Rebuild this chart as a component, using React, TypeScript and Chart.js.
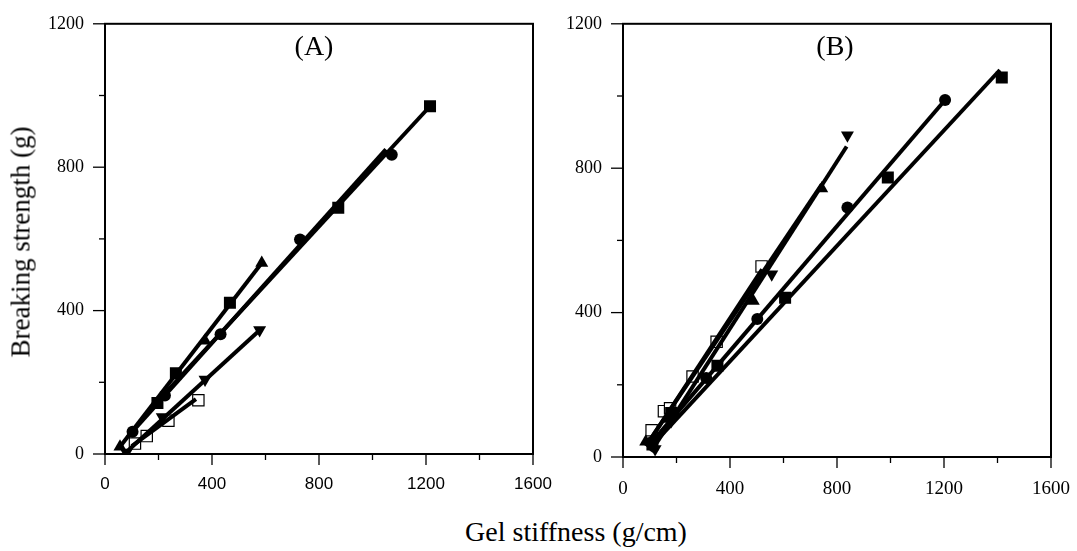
import React, { useEffect, useRef } from "react";
import { Chart, registerables } from "chart.js";
Chart.register(...registerables);

// Axis definitions
const xTickMin = 0;
const xTickMax = 1600;
const xTickStep = 200;
const xLabelEvery = 400;
const yTickMin = 0;
const yTickMax = 1200;
const yTickStep = 200;
const yLabelEvery = 400;

// ---------- Panel A (markers) ----------
const aCircleX = [103, 224, 432, 729, 1072];
const aCircleY = [62, 163, 334, 598, 835];
const aSquareX = [196, 265, 467, 872, 1215];
const aSquareY = [142, 225, 422, 687, 970];
const aTriUpX = [56, 374, 586];
const aTriUpY = [20, 316, 533];
const aTriDownX = [80, 214, 374, 578];
const aTriDownY = [4, 103, 208, 346];
const aOpenSqX = [112, 156, 237, 349];
const aOpenSqY = [29, 50, 93, 150];
// Panel A (fitted lines, end points)
const aCircleLineX = [85, 1050];
const aCircleLineY = [48, 850];
const aSquareLineX = [170, 1215];
const aSquareLineY = [125, 970];
const aTriUpLineX = [56, 586];
const aTriUpLineY = [20, 533];
const aTriDownLineX = [78, 576];
const aTriDownLineY = [4, 344];
const aOpenSqLineX = [100, 340];
const aOpenSqLineY = [22, 153];

// ---------- Panel B (markers) ----------
const bCircleX = [105, 190, 311, 502, 839, 1204];
const bCircleY = [40, 118, 219, 382, 691, 989];
const bSquareX = [110, 180, 353, 606, 990, 1416];
const bSquareY = [35, 122, 253, 441, 774, 1051];
const bTriUpX = [85, 170, 487, 743];
const bTriUpY = [42, 105, 432, 744];
const bTriDownX = [120, 180, 556, 839];
const bTriDownY = [22, 100, 506, 891];
const bOpenSqX = [107, 153, 176, 260, 350, 518];
const bOpenSqY = [74, 127, 135, 223, 319, 528];
// Panel B (fitted lines, end points)
const bCircleLineX = [95, 1204];
const bCircleLineY = [30, 989];
const bSquareLineX = [100, 1409];
const bSquareLineY = [25, 1072];
const bTriUpLineX = [85, 743];
const bTriUpLineY = [30, 755];
const bTriDownLineX = [105, 836];
const bTriDownLineY = [15, 860];
const bOpenSqLineX = [95, 520];
const bOpenSqLineY = [40, 520];

const xTitle = "Gel stiffness (g/cm)";
const yTitle = "Breaking strength (g)";
const panelLabels = ["(A)", "(B)"];

function pts(xs: number[], ys: number[]) {
  return xs.map((x, i) => ({ x, y: ys[i] }));
}

type Marker = {
  pointStyle: string;
  radius: number;
  fill: string;
  rotation?: number;
  borderWidth?: number;
  order: number;
};

const mCircle: Marker = { pointStyle: "circle", radius: 6, fill: "#000", order: 0 };
const mSquare: Marker = { pointStyle: "rect", radius: 8.5, fill: "#000", order: 0 };
const mTriUp: Marker = { pointStyle: "triangle", radius: 7.5, fill: "#000", order: 0 };
const mTriDown: Marker = { pointStyle: "triangle", radius: 7.5, fill: "#000", rotation: 180, order: 0 };
const mOpenSq: Marker = { pointStyle: "rect", radius: 8, fill: "#fff", borderWidth: 1.2, order: 2 };

function series(mx: number[], my: number[], lx: number[], ly: number[], m: Marker) {
  return [
    {
      data: pts(lx, ly),
      showLine: true,
      borderColor: "#000",
      borderWidth: 4,
      pointRadius: 0,
      borderCapStyle: "butt",
      order: 1,
    },
    {
      data: pts(mx, my),
      showLine: false,
      pointStyle: m.pointStyle,
      pointRadius: m.radius,
      pointRotation: m.rotation || 0,
      pointBackgroundColor: m.fill,
      pointBorderColor: "#000",
      pointBorderWidth: m.borderWidth || 0,
      order: m.order,
    },
  ];
}

const frameTicks = {
  id: "frameTicks",
  afterDatasetsDraw(chart: any) {
    const { ctx, chartArea } = chart;
    const { left, right, top, bottom } = chartArea;
    ctx.save();
    ctx.strokeStyle = "#000";
    ctx.lineWidth = 2;
    ctx.strokeRect(left, top, right - left, bottom - top);
    ctx.lineWidth = 1.3;
    const xs = chart.scales.x;
    xs.ticks.forEach((t: any) => {
      const px = xs.getPixelForValue(t.value);
      const len = t.value % xLabelEvery === 0 ? 11 : 6;
      ctx.beginPath();
      ctx.moveTo(px, bottom);
      ctx.lineTo(px, bottom + len);
      ctx.stroke();
    });
    const ys = chart.scales.y;
    ys.ticks.forEach((t: any) => {
      const py = ys.getPixelForValue(t.value);
      const len = t.value % yLabelEvery === 0 ? 12 : 6;
      ctx.beginPath();
      ctx.moveTo(left, py);
      ctx.lineTo(left - len, py);
      ctx.stroke();
    });
    ctx.restore();
  },
};

type PanelProps = {
  datasets: any[];
  left: number;
  width: number;
  height: number;
  padRight: number;
  yWidth: number;
  xHeight: number;
  xFont: any;
  xPad: number;
  yPad: number;
};

function Panel(p: PanelProps) {
  const ref = useRef<HTMLCanvasElement>(null);
  useEffect(() => {
    if (!ref.current) return;
    const chart = new Chart(ref.current, {
      type: "scatter",
      data: { datasets: p.datasets },
      options: {
        animation: false,
        responsive: false,
        maintainAspectRatio: false,
        layout: { padding: { left: 0, top: 21, right: p.padRight, bottom: 0 } },
        plugins: { legend: { display: false }, tooltip: { enabled: false } },
        scales: {
          x: {
            type: "linear",
            min: xTickMin,
            max: xTickMax,
            grid: { display: false },
            border: { display: false },
            ticks: {
              stepSize: xTickStep,
              autoSkip: false,
              maxRotation: 0,
              padding: p.xPad,
              color: "#000",
              font: p.xFont,
              callback: (v: any) => (Number(v) % xLabelEvery === 0 ? String(v) : ""),
            },
            afterFit: (s: any) => {
              s.height = p.xHeight;
            },
          },
          y: {
            type: "linear",
            min: yTickMin,
            max: yTickMax,
            grid: { display: false },
            border: { display: false },
            ticks: {
              stepSize: yTickStep,
              autoSkip: false,
              padding: p.yPad,
              color: "#000",
              font: { family: "Liberation Serif", size: 18 },
              callback: (v: any) => (Number(v) % yLabelEvery === 0 ? String(v) : ""),
            },
            afterFit: (s: any) => {
              s.width = p.yWidth;
            },
          },
        },
      } as any,
      plugins: [frameTicks],
    });
    return () => chart.destroy();
  }, []);
  return (
    <canvas
      ref={ref}
      width={p.width}
      height={p.height}
      style={{ position: "absolute", left: p.left, top: 0, width: p.width, height: p.height }}
    />
  );
}

const datasetsA = [
  ...series(aCircleX, aCircleY, aCircleLineX, aCircleLineY, mCircle),
  ...series(aSquareX, aSquareY, aSquareLineX, aSquareLineY, mSquare),
  ...series(aTriUpX, aTriUpY, aTriUpLineX, aTriUpLineY, mTriUp),
  ...series(aTriDownX, aTriDownY, aTriDownLineX, aTriDownLineY, mTriDown),
  ...series(aOpenSqX, aOpenSqY, aOpenSqLineX, aOpenSqLineY, mOpenSq),
];

const datasetsB = [
  ...series(bCircleX, bCircleY, bCircleLineX, bCircleLineY, mCircle),
  ...series(bSquareX, bSquareY, bSquareLineX, bSquareLineY, mSquare),
  ...series(bTriUpX, bTriUpY, bTriUpLineX, bTriUpLineY, mTriUp),
  ...series(bTriDownX, bTriDownY, bTriDownLineX, bTriDownLineY, mTriDown),
  ...series(bOpenSqX, bOpenSqY, bOpenSqLineX, bOpenSqLineY, mOpenSq),
];

export default function App() {
  const serif = "'Liberation Serif', 'Times New Roman', serif";
  return (
    <div
      style={{
        position: "fixed",
        left: 0,
        top: 0,
        width: 1077,
        height: 551,
        background: "#fff",
        overflow: "hidden",
      }}
    >
      <Panel
        datasets={datasetsA}
        left={0}
        width={575}
        height={500}
        padRight={42}
        yWidth={105}
        xHeight={46}
        xFont={{ family: "Liberation Sans", size: 17 }}
        xPad={12}
        yPad={13}
      />
      <Panel
        datasets={datasetsB}
        left={545}
        width={545}
        height={500}
        padRight={39}
        yWidth={78}
        xHeight={43}
        xFont={{ family: "Liberation Serif", size: 19 }}
        xPad={13}
        yPad={13}
      />
      <div
        style={{
          position: "absolute",
          left: 314,
          top: 46,
          transform: "translate(-50%, -50%)",
          fontFamily: serif,
          fontSize: 28,
          whiteSpace: "nowrap",
          lineHeight: 1,
        }}
      >
        {panelLabels[0]}
      </div>
      <div
        style={{
          position: "absolute",
          left: 835,
          top: 46,
          transform: "translate(-50%, -50%)",
          fontFamily: serif,
          fontSize: 28,
          whiteSpace: "nowrap",
          lineHeight: 1,
        }}
      >
        {panelLabels[1]}
      </div>
      <div
        style={{
          position: "absolute",
          left: 576,
          top: 532,
          transform: "translate(-50%, -50%)",
          fontFamily: serif,
          fontSize: 28,
          whiteSpace: "nowrap",
          lineHeight: 1,
        }}
      >
        {xTitle}
      </div>
      <div
        style={{
          position: "absolute",
          left: 21,
          top: 242,
          transform: "translate(-50%, -50%) rotate(-90deg)",
          fontFamily: serif,
          fontSize: 27,
          whiteSpace: "nowrap",
          lineHeight: 1,
        }}
      >
        {yTitle}
      </div>
    </div>
  );
}
